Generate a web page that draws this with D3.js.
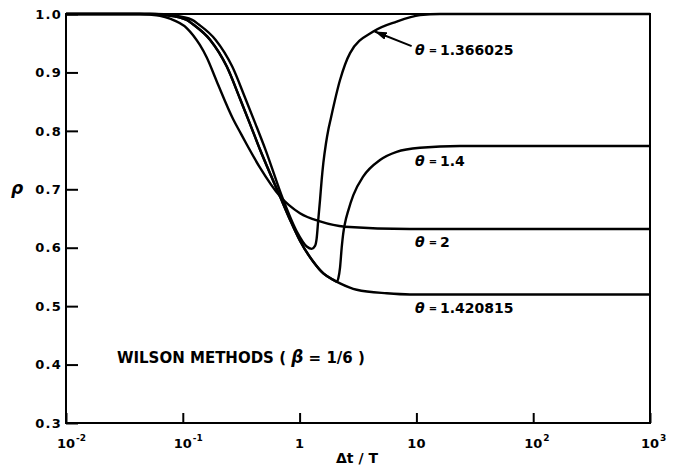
<!DOCTYPE html>
<html>
<head>
<meta charset="utf-8">
<script src="https://cdn.jsdelivr.net/npm/d3@7/dist/d3.min.js"></script>
<style>
  html, body { margin: 0; padding: 0; background: #fff; }
  svg { display: block; }
  text { font-family: "DejaVu Sans", "Liberation Sans", sans-serif; fill: #000; }
</style>
</head>
<body>
<div id="chart"></div>
<script>
// ---------- data ----------
const xTicks = [0.01, 0.1, 1, 10, 100, 1000];
const xTickBase = ["10", "10", "1", "10", "10", "10"];
const xTickExp = ["-2", "-1", "", "", "2", "3"];
const yTicks = [0.3, 0.4, 0.5, 0.6, 0.7, 0.8, 0.9, 1.0];

const seriesNames = ["θ = 1.366025", "θ = 1.4", "θ = 2", "θ = 1.420815"];

// [Δt/T, ρ]
const theta1366025 = [
  [0.01, 1.0], [0.0583, 1.0], [0.0810, 0.998], [0.1203, 0.99], [0.1371, 0.982],
  [0.1905, 0.956], [0.265, 0.91], [0.344, 0.855], [0.419, 0.812], [0.510, 0.768],
  [0.721, 0.683], [0.944, 0.628], [1.151, 0.602], [1.27, 0.598],
  [1.355, 0.603], [1.40, 0.616], [1.445, 0.648], [1.496, 0.682], [1.545, 0.716],
  [1.597, 0.745], [1.68, 0.778], [1.762, 0.802], [1.821, 0.815], [2.219, 0.887],
  [2.704, 0.933], [4.276, 0.970], [6.776, 0.987], [10.74, 0.998], [15.92, 1.0],
  [1000, 1.0]
];
const theta14 = [
  [0.01, 1.0], [0.0524, 1.0], [0.0728, 0.998], [0.108, 0.99], [0.123, 0.982],
  [0.171, 0.956], [0.238, 0.91], [0.309, 0.855], [0.376, 0.812],
  [0.458, 0.768], [0.679, 0.688], [0.828, 0.648], [1.007, 0.612], [1.31, 0.576],
  [1.597, 0.556], [1.945, 0.545], [2.08, 0.542], [2.148, 0.548], [2.219, 0.566],
  [2.293, 0.600], [2.366, 0.625], [2.447, 0.642], [2.614, 0.664], [2.884, 0.690],
  [3.509, 0.722], [4.877, 0.750], [6.776, 0.764], [10.74, 0.771], [23.6, 0.774],
  [1000, 0.774]
];
const theta2 = [
  [0.01, 1.0], [0.043, 1.0], [0.0524, 0.999], [0.0638, 0.997], [0.0776, 0.992],
  [0.108, 0.976], [0.14, 0.947], [0.16, 0.926], [0.195, 0.885], [0.27, 0.82],
  [0.309, 0.798], [0.352, 0.777], [0.458, 0.737], [0.679, 0.688], [1.007, 0.659],
  [1.496, 0.645], [2.447, 0.636], [8.81, 0.632], [1000, 0.632]
];
const theta1420815 = [
  [0.01, 1.0], [0.0524, 1.0], [0.0728, 0.998], [0.108, 0.99], [0.123, 0.982],
  [0.171, 0.956], [0.238, 0.91], [0.309, 0.855], [0.376, 0.812],
  [0.458, 0.768], [0.679, 0.688], [0.828, 0.648], [1.007, 0.612], [1.31, 0.576],
  [1.597, 0.556], [1.945, 0.545], [2.219, 0.539], [3.083, 0.528], [5.572, 0.522],
  [8.81, 0.520], [1000, 0.520]
];
const allSeries = [theta1366025, theta14, theta2, theta1420815];
const labelAnchors = [[9.73, 0.930], [9.73, 0.740], [9.73, 0.602], [9.73, 0.489]];
const arrowFrom = [9.1, 0.945];
const arrowTo = [4.4, 0.970];
const noteText = "WILSON METHODS ( β = 1/6 )";
const notePos = [0.0273, 0.403];

// ---------- layout ----------
const W = 677, H = 465;
const X0 = 66, X1 = 650, Y0 = 423, Y1 = 14;

const svg = d3.select("#chart").append("svg")
  .attr("width", W).attr("height", H);

const x = d3.scaleLog().domain([0.01, 1000]).range([X0, X1]);
const y = d3.scaleLinear().domain([0.3, 1.0]).range([Y0, Y1]);

// y axis (ticks inward)
const yAxis = d3.axisLeft(y).tickValues(yTicks).tickSize(-12).tickPadding(4)
  .tickFormat(d3.format(".1f"));
const gy = svg.append("g").attr("transform", `translate(${X0},0)`).call(yAxis);
gy.select(".domain").remove();
gy.selectAll(".tick line").attr("stroke", "#000").attr("stroke-width", 2);
gy.selectAll(".tick text")
  .attr("font-size", 13).attr("font-weight", "bold")
  .attr("letter-spacing", 1.2)
  .attr("font-family", "DejaVu Sans, sans-serif")
  .attr("fill", "#000");

// x axis (ticks inward, custom labels)
const xAxis = d3.axisBottom(x).tickValues(xTicks).tickSize(-10).tickFormat(() => "");
const gx = svg.append("g").attr("transform", `translate(0,${Y0})`).call(xAxis);
gx.select(".domain").remove();
gx.selectAll(".tick line").attr("stroke", "#000").attr("stroke-width", 2);

xTicks.forEach((t, i) => {
  const base = svg.append("text")
    .attr("x", x(t)).attr("y", 448)
    .attr("text-anchor", "middle")
    .attr("font-size", 13).attr("font-weight", "bold")
    .text(xTickBase[i]);
  if (xTickExp[i]) {
    const half = base.node().getComputedTextLength() / 2;
    svg.append("text")
      .attr("x", x(t) + half + 1).attr("y", 441)
      .attr("font-size", 9).attr("font-weight", "bold")
      .text(xTickExp[i]);
  }
});

// frame
svg.append("rect")
  .attr("x", X0).attr("y", Y1).attr("width", X1 - X0).attr("height", Y0 - Y1)
  .attr("fill", "none").attr("stroke", "#000").attr("stroke-width", 2);

// curves
const line = d3.line()
  .x(d => x(d[0])).y(d => y(d[1]))
  .curve(d3.curveMonotoneX);

svg.append("g").selectAll("path")
  .data(allSeries).join("path")
  .attr("d", line)
  .attr("fill", "none")
  .attr("stroke", "#000")
  .attr("stroke-width", 2.4)
  .attr("stroke-linejoin", "round");

// series labels
labelAnchors.forEach((p, i) => {
  const parts = seriesNames[i].split(" = ");
  const t = svg.append("text")
    .attr("x", x(p[0])).attr("y", y(p[1]))
    .attr("font-size", 14).attr("font-weight", "bold");
  t.append("tspan").attr("font-style", "italic").text(parts[0]);
  t.append("tspan").attr("font-size", 10).attr("dx", 4).attr("dy", -1).text("=");
  t.append("tspan").attr("dx", 3).attr("dy", 1).text(parts[1]);
});

// arrow
svg.append("defs").append("marker")
  .attr("id", "arrow").attr("viewBox", "0 0 12 8")
  .attr("refX", 12).attr("refY", 4)
  .attr("markerWidth", 12).attr("markerHeight", 8)
  .attr("markerUnits", "userSpaceOnUse")
  .attr("orient", "auto")
  .append("path").attr("d", "M0,0 L12,4 L0,8 Z").attr("fill", "#000");

svg.append("line")
  .attr("x1", x(arrowFrom[0])).attr("y1", y(arrowFrom[1]))
  .attr("x2", x(arrowTo[0])).attr("y2", y(arrowTo[1]))
  .attr("stroke", "#000").attr("stroke-width", 2)
  .attr("marker-end", "url(#arrow)");

// note
const note = svg.append("text")
  .attr("x", x(notePos[0])).attr("y", y(notePos[1]))
  .attr("font-size", 15).attr("font-weight", "bold");
const np = noteText.split("β");
note.append("tspan").text(np[0]);
note.append("tspan").attr("font-style", "italic").attr("font-size", 17).text("β");
note.append("tspan").text(np[1]);

// axis titles
svg.append("text")
  .attr("x", 17).attr("y", 194)
  .attr("text-anchor", "middle")
  .attr("font-size", 17).attr("font-style", "italic").attr("font-weight", "bold")
  .text("ρ");

svg.append("text")
  .attr("x", 357).attr("y", 463)
  .attr("text-anchor", "middle")
  .attr("font-size", 14).attr("font-weight", "bold")
  .text("Δt / T");
</script>
</body>
</html>
